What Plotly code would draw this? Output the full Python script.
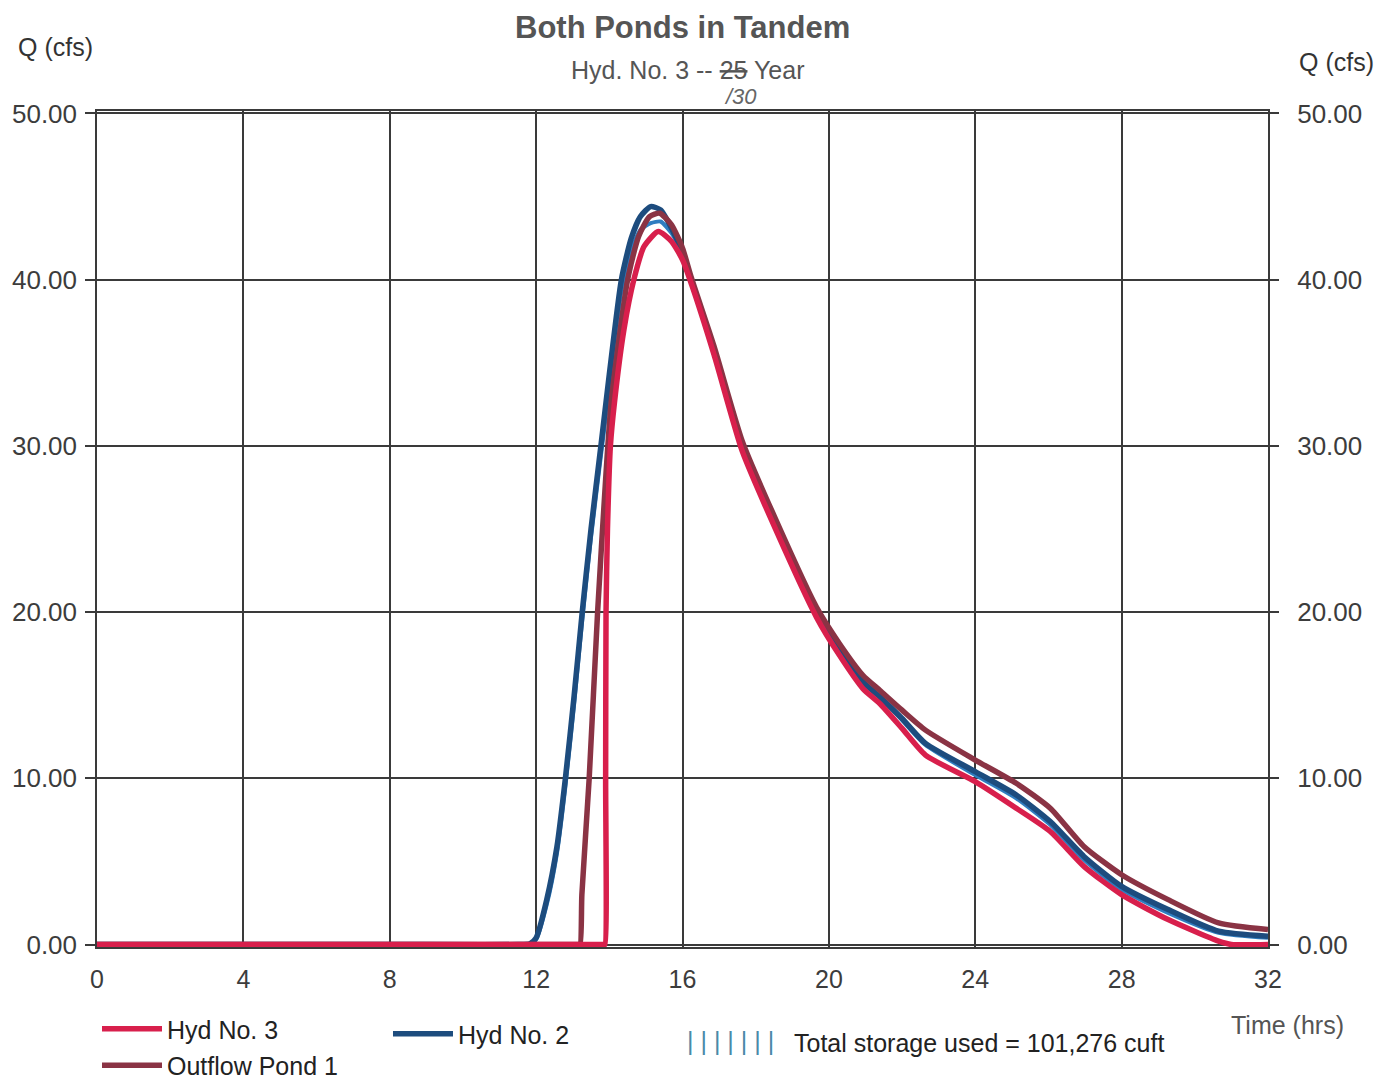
import plotly.graph_objects as go

# ---------------- data ----------------
t_hyd2 = [0, 4, 8, 11.5, 11.83, 12.0, 12.29, 12.57, 12.8, 13.04, 13.26, 13.5, 13.77, 14.0,
          14.33, 14.6, 14.85, 15.13, 15.4, 15.7, 16.0, 16.23, 16.86, 17.63, 18.44, 19.66,
          20.29, 20.93, 21.39, 22.0, 22.64, 24.0, 25.12, 26.05, 26.97, 28.0, 29.27, 30.65, 32.0]
q_hyd2 = [0, 0, 0, 0, 0.05, 0.4, 2.7, 5.9, 10.0, 15.0, 20.0, 25.0, 30.0, 34.3,
          40.0, 42.5, 43.8, 44.4, 44.2, 43.1, 41.6, 40.0, 35.8, 30.0, 25.8, 20.0,
          17.8, 15.8, 14.9, 13.6, 12.1, 10.4, 9.0, 7.4, 5.3, 3.5, 2.1, 0.8, 0.5]

q_hyd2b = [0, 0, 0, 0, 0.03, 0.3, 2.4, 5.5, 9.5, 14.5, 19.5, 24.5, 29.4, 33.5,
           39.3, 41.8, 43.0, 43.4, 43.5, 42.8, 41.5, 40.0, 35.8, 30.0, 25.8, 20.0,
           17.8, 15.8, 14.9, 13.5, 12.0, 10.2, 8.8, 7.2, 5.1, 3.3, 1.9, 0.7, 0.4]

t_out1 = [0, 4, 8, 12, 13.15, 13.2, 13.25, 13.45, 13.68, 13.9, 14.05, 14.5, 14.8, 15.1, 15.38,
          15.7, 16.0, 16.23, 16.86, 17.63, 18.44, 19.66, 20.29, 20.93, 21.39, 22.0, 22.64,
          24.0, 25.12, 26.05, 26.97, 28.0, 29.27, 30.65, 32.0]
q_out1 = [0, 0, 0, 0, 0, 0, 3.0, 10.0, 20.0, 28.0, 32.6, 40.0, 42.6, 43.8, 44.0,
          43.3, 41.9, 40.2, 36.0, 30.3, 26.1, 20.3, 18.1, 16.2, 15.3, 14.1, 12.9,
          11.1, 9.7, 8.2, 5.9, 4.2, 2.7, 1.3, 0.9]

t_hyd3 = [0, 4, 8, 12, 13.85, 13.88, 13.9, 13.91, 13.95, 14.03, 14.14, 14.4, 14.67, 14.95, 15.34,
          15.7, 16.0, 16.25, 16.86, 17.63, 18.44, 19.66, 20.29, 20.93, 21.39, 22.0, 22.64,
          24.0, 25.12, 26.05, 26.97, 28.0, 29.27, 30.65, 31.0, 32.0]
q_hyd3 = [0, 0, 0, 0, 0, 0, 10.0, 20.0, 25.0, 30.0, 32.6, 37.0, 40.0, 42.0, 42.9,
          42.3, 41.2, 39.7, 35.5, 29.7, 25.5, 19.7, 17.4, 15.4, 14.5, 13.0, 11.4,
          9.8, 8.2, 6.8, 4.7, 3.0, 1.5, 0.2, 0.0, 0.0]

x_ticks = [0, 4, 8, 12, 16, 20, 24, 28, 32]
y_ticks = [0, 10, 20, 30, 40, 50]

FONT = "Liberation Sans, Arial, sans-serif"
GRID = "#3a3a3a"
TXT = "#3c3c3c"
SM = 0.6
LW = 5.5

fig = go.Figure()
fig.add_trace(go.Scatter(x=t_hyd2, y=q_hyd2b, mode="lines", name="Hyd No. 2 (b)",
                         line=dict(color="#2f7dc0", width=4, shape="spline", smoothing=SM),
                         showlegend=False))
fig.add_trace(go.Scatter(x=t_hyd2, y=q_hyd2, mode="lines", name="Hyd No. 2",
                         line=dict(color="#1d4c7e", width=LW, shape="spline", smoothing=SM),
                         legend="legend2", legendgroup="g2"))
fig.add_trace(go.Scatter(x=t_out1, y=q_out1, mode="lines", name="Outflow Pond 1",
                         line=dict(color="#8a3344", width=LW, shape="spline", smoothing=SM),
                         legend="legend", legendgroup="g3", legendrank=2))
fig.add_trace(go.Scatter(x=t_hyd3, y=q_hyd3, mode="lines", name="Hyd No. 3",
                         line=dict(color="#d81f4c", width=LW, shape="spline", smoothing=SM),
                         legend="legend", legendgroup="g1", legendrank=1))
# invisible trace to activate right axis
fig.add_trace(go.Scatter(x=[0], y=[0], yaxis="y2", mode="lines", showlegend=False,
                         hoverinfo="skip", line=dict(width=0)))

axis_common = dict(showgrid=True, gridcolor=GRID, gridwidth=1.5, showline=True,
                   linecolor=GRID, linewidth=1.5, zeroline=False)

fig.update_layout(
    width=1378, height=1082,
    margin=dict(l=97, r=110, t=111, b=135, autoexpand=False),
    paper_bgcolor="white", plot_bgcolor="white",
    font=dict(family=FONT, color=TXT),
    showlegend=True,
    xaxis=dict(range=[0, 32], tickvals=x_ticks, ticktext=[str(v) for v in x_ticks],
               tickfont=dict(size=25, color=TXT), ticks="", ticklabelstandoff=9,
               mirror=True, **axis_common),
    yaxis=dict(range=[-0.15, 50.15], tickvals=y_ticks, tickformat=".2f",
               tickfont=dict(size=26, color=TXT), ticks="outside", ticklen=10,
               tickcolor=GRID, tickwidth=1.5, ticklabelstandoff=3, mirror=True,
               **axis_common),
    yaxis2=dict(range=[-0.15, 50.15], tickvals=y_ticks, tickformat=".2f", overlaying="y",
                side="right", tickfont=dict(size=26, color=TXT), ticks="outside",
                ticklen=10, tickcolor=GRID, tickwidth=1.5, ticklabelstandoff=13,
                showgrid=False, showline=False, zeroline=False),
    legend=dict(x=0, y=(947 - 1006) / 836, xanchor="left", yanchor="top", orientation="v",
                font=dict(size=25, color="#222"), itemwidth=60, tracegroupgap=1,
                bgcolor="rgba(0,0,0,0)"),
    legend2=dict(x=0.2485, y=(947 - 1011) / 836, xanchor="left", yanchor="top",
                 orientation="v", font=dict(size=25, color="#222"), itemwidth=60,
                 bgcolor="rgba(0,0,0,0)"),
)

ann = [
    dict(text="<b>Both Ponds in Tandem</b>", x=0.5, y=(947 - 27) / 836,
         font=dict(size=31, color="#555")),
    dict(text="Hyd. No. 3 -- <s>25</s> Year", x=(687 - 97) / 1171, y=(947 - 70) / 836,
         font=dict(size=25, color="#555")),
    dict(text="<i>/30</i>", x=(740 - 97) / 1171, y=(947 - 97) / 836,
         font=dict(size=22, color="#666")),
    dict(text="Q (cfs)", x=(55 - 97) / 1171, y=(947 - 47) / 836,
         font=dict(size=25, color="#333")),
    dict(text="Q (cfs)", x=(1336 - 97) / 1171, y=(947 - 62) / 836,
         font=dict(size=25, color="#333")),
    dict(text="Time (hrs)", x=(1287 - 97) / 1171, y=(947 - 1025) / 836,
         font=dict(size=25, color="#555")),
    dict(text="| | | | | | |", x=(730 - 97) / 1171, y=(947 - 1041) / 836,
         font=dict(size=25, color="#4a8aa8")),
    dict(text="Total storage used = 101,276 cuft", x=(792 - 97) / 1171,
         y=(947 - 1043) / 836, xanchor="left", font=dict(size=25, color="#222")),
]
for a in ann:
    a.setdefault("xref", "paper")
    a.setdefault("yref", "paper")
    a.setdefault("showarrow", False)
    a.setdefault("xanchor", "center")
    a.setdefault("yanchor", "middle")
fig.update_layout(annotations=ann)

fig.write_html("out.html")
